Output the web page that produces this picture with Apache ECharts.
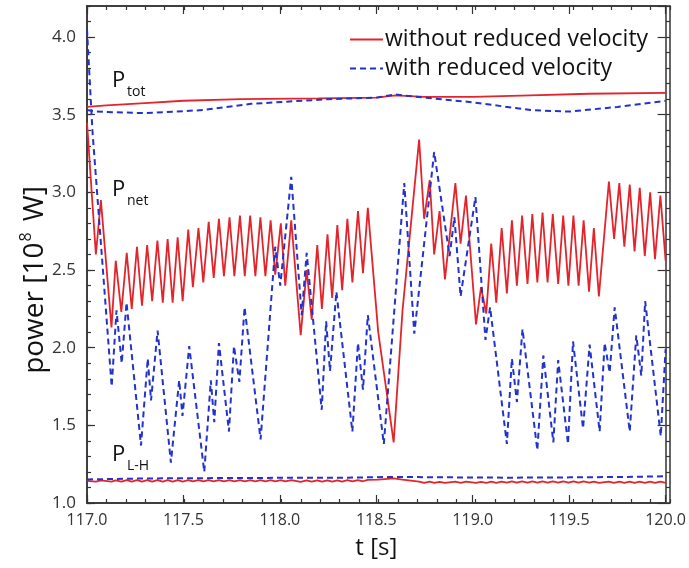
<!DOCTYPE html>
<html>
<head>
<meta charset="utf-8">
<script src="https://cdn.jsdelivr.net/npm/echarts@6/dist/echarts.min.js"></script>
<style>
  html, body { margin: 0; padding: 0; background: #fff; }
  #chart { width: 689px; height: 568px; }
</style>
</head>
<body>
<div id="chart"></div>
<script>
// Time stamps of the sawtooth vertices of the run without reduced velocity [s]
const tRed = [117.000,117.046,117.072,117.127,117.149,117.178,117.206,117.232,117.259,117.285,
  117.312,117.338,117.365,117.393,117.418,117.444,117.470,117.496,117.525,117.549,
  117.578,117.603,117.631,117.657,117.684,117.710,117.739,117.764,117.793,117.818,
  117.846,117.873,117.899,117.925,117.952,117.976,118.005,118.028,118.059,118.108,
  118.139,118.165,118.194,118.218,118.247,118.271,118.298,118.323,118.350,118.376,
  118.405,118.431,118.456,118.510,118.590,118.636,118.722,118.748,118.777,118.800,
  118.828,118.856,118.910,118.937,118.965,119.017,119.043,119.070,119.096,119.122,
  119.150,119.177,119.203,119.229,119.256,119.284,119.309,119.335,119.362,119.388,
  119.415,119.443,119.469,119.496,119.522,119.549,119.575,119.603,119.628,119.654,
  119.706,119.733,119.760,119.786,119.814,119.839,119.866,119.892,119.920,119.945,
  119.973,120.000];

// P_net without reduced velocity [1e8 W]
const netRed = [3.45,2.60,2.95,2.13,2.56,2.23,2.61,2.25,2.65,2.27,
  2.66,2.30,2.69,2.29,2.70,2.29,2.71,2.30,2.76,2.39,
  2.77,2.42,2.81,2.45,2.83,2.46,2.84,2.46,2.85,2.46,
  2.85,2.46,2.84,2.46,2.82,2.47,2.80,2.40,2.82,2.08,
  2.50,2.18,2.66,2.25,2.73,2.32,2.79,2.37,2.83,2.42,
  2.88,2.48,2.90,2.10,1.39,2.24,3.34,2.83,3.08,2.60,
  2.88,2.44,3.06,2.67,2.98,2.15,2.39,2.22,2.67,2.29,
  2.77,2.35,2.82,2.40,2.85,2.41,2.86,2.42,2.87,2.42,
  2.86,2.41,2.85,2.40,2.85,2.40,2.82,2.36,2.77,2.33,
  3.07,2.70,3.06,2.65,3.05,2.62,3.03,2.59,3.00,2.57,
  2.98,2.56];

// P_L-H without reduced velocity, same time stamps [1e8 W]
const lhRed = [1.142,1.137,1.146,1.137,1.146,1.138,1.147,1.138,1.147,1.138,
  1.147,1.138,1.147,1.138,1.147,1.138,1.147,1.138,1.147,1.139,
  1.147,1.139,1.147,1.139,1.147,1.139,1.147,1.139,1.147,1.139,
  1.147,1.139,1.147,1.139,1.147,1.139,1.147,1.139,1.147,1.136,
  1.145,1.137,1.146,1.137,1.146,1.138,1.146,1.138,1.147,1.139,
  1.148,1.140,1.149,1.150,1.158,1.150,1.138,1.130,1.137,1.129,
  1.136,1.129,1.137,1.130,1.137,1.129,1.136,1.130,1.138,1.130,
  1.138,1.131,1.139,1.131,1.139,1.131,1.139,1.131,1.139,1.131,
  1.139,1.131,1.139,1.131,1.139,1.131,1.139,1.131,1.138,1.130,
  1.138,1.130,1.138,1.130,1.138,1.130,1.137,1.129,1.137,1.129,
  1.137,1.129];

// P_tot without reduced velocity
const tTotRed = [117.0,117.1,117.3,117.5,117.8,118.2,118.5,118.6,118.75,119.0,119.3,119.6,120.0];
const totRed  = [3.55,3.56,3.575,3.59,3.60,3.605,3.61,3.625,3.615,3.615,3.625,3.635,3.64];

// P_net with reduced velocity
const tBlue = [117.000,117.028,117.128,117.153,117.180,117.205,117.280,117.315,117.332,117.366,
  117.435,117.478,117.495,117.530,117.608,117.642,117.660,117.684,117.736,117.762,
  117.790,117.817,117.900,117.976,118.002,118.059,118.113,118.139,118.217,118.240,
  118.260,118.293,118.376,118.405,118.431,118.456,118.539,118.645,118.697,118.800,
  118.880,118.905,118.937,119.014,119.066,119.090,119.177,119.203,119.229,119.258,
  119.335,119.366,119.418,119.443,119.494,119.520,119.572,119.606,119.658,119.684,
  119.710,119.736,119.814,119.848,119.874,119.894,119.975,120.000];
const netBlue = [4.05,3.40,1.75,2.24,1.90,2.29,1.37,1.93,1.66,2.11,
  1.26,1.79,1.56,2.01,1.20,1.79,1.52,2.03,1.46,2.01,
  1.78,2.26,1.41,2.65,2.40,3.10,2.21,2.61,1.60,2.17,
  1.85,2.36,1.46,2.03,1.73,2.21,1.38,3.06,2.09,3.26,
  2.59,2.84,2.33,2.97,2.05,2.26,1.38,1.93,1.65,2.12,
  1.34,1.95,1.39,1.92,1.38,2.04,1.48,2.02,1.46,2.03,
  1.84,2.26,1.46,2.08,1.82,2.30,1.43,1.99];

// P_tot with reduced velocity
const tTotBlue = [117.0,117.05,117.3,117.6,117.85,118.25,118.5,118.6,118.75,119.0,119.3,119.5,119.75,120.0];
const totBlue  = [3.53,3.52,3.51,3.53,3.57,3.60,3.61,3.63,3.61,3.58,3.53,3.52,3.55,3.59];

// P_L-H with reduced velocity
const tLhBlue = [117.0,117.3,117.6,118.0,118.3,118.6,118.9,119.2,119.5,119.8,120.0];
const lhBlue  = [1.152,1.158,1.160,1.162,1.162,1.168,1.165,1.163,1.165,1.168,1.172];

const NAME_RED = 'without reduced velocity';
const NAME_BLUE = 'with reduced velocity';
const RED = '#e3242b';
const BLUE = '#2233cc';
const FONT = 'Open Sans';
const AXIS_COLOR = '#333';

const pairs = (ts, vs) => ts.map((t, i) => [t, vs[i]]);

const gridRect = { left: 87, right: 19, top: 6, bottom: 65 };

function xAxisDef(gridIndex, position, interval, tickLen, withLabels) {
  return {
    type: 'value', gridIndex, position, min: 117, max: 120, interval,
    axisLine: { show: true, onZero: false, lineStyle: { color: AXIS_COLOR, width: 1.5 } },
    axisTick: { show: true, inside: true, length: tickLen, lineStyle: { color: AXIS_COLOR, width: 1.2 } },
    axisLabel: withLabels ? {
      show: true, formatter: v => v.toFixed(1), fontSize: 16, color: '#333', fontFamily: FONT, margin: 9
    } : { show: false },
    splitLine: { show: false },
    name: withLabels ? 't [s]' : '',
    nameLocation: 'middle', nameGap: 33,
    nameTextStyle: { fontSize: 24, color: '#111', fontFamily: FONT }
  };
}

function yAxisDef(gridIndex, position, interval, tickLen, withLabels) {
  return {
    type: 'value', gridIndex, position, min: 1.0, max: 4.2, interval,
    axisLine: { show: true, onZero: false, lineStyle: { color: AXIS_COLOR, width: 1.5 } },
    axisTick: { show: true, inside: true, length: tickLen, lineStyle: { color: AXIS_COLOR, width: 1.2 } },
    axisLabel: withLabels ? {
      show: true, formatter: v => v.toFixed(1), fontSize: 17, color: '#333', fontFamily: FONT,
      margin: 11, showMaxLabel: false
    } : { show: false },
    splitLine: { show: false }
  };
}

const lineSeries = (name, data, color, dashed) => ({
  name, type: 'line', data, xAxisIndex: 0, yAxisIndex: 0,
  symbol: 'none', showSymbol: false, smooth: false, clip: true,
  lineStyle: { color, width: dashed ? 2 : 1.8, type: dashed ? [6, 4] : 'solid' },
  itemStyle: { color },
  emphasis: { disabled: true }
});

const chart = echarts.init(document.getElementById('chart'), null, { renderer: 'canvas' });

chart.setOption({
  animation: false,
  backgroundColor: '#fff',
  grid: [Object.assign({}, gridRect), Object.assign({}, gridRect)],
  xAxis: [
    xAxisDef(0, 'bottom', 0.5, 8, true),
    xAxisDef(0, 'top', 0.5, 8, false),
    xAxisDef(1, 'bottom', 0.1, 4, false),
    xAxisDef(1, 'top', 0.1, 4, false)
  ],
  yAxis: [
    yAxisDef(0, 'left', 0.5, 8, true),
    yAxisDef(0, 'right', 0.5, 8, false),
    yAxisDef(1, 'left', 0.1, 4, false),
    yAxisDef(1, 'right', 0.1, 4, false)
  ],
  legend: {
    orient: 'vertical', left: 349, top: 28, padding: 0,
    itemWidth: 33, itemHeight: 14, itemGap: 6,
    itemStyle: { opacity: 0 },
    textStyle: { fontSize: 23, color: '#111', fontFamily: FONT, padding: [0, 0, 0, -3] },
    data: [NAME_RED, NAME_BLUE],
    selectedMode: false
  },
  series: [
    lineSeries(NAME_RED, pairs(tTotRed, totRed), RED, false),
    lineSeries(NAME_RED, pairs(tRed, netRed), RED, false),
    lineSeries(NAME_RED, pairs(tRed, lhRed), RED, false),
    lineSeries(NAME_BLUE, pairs(tTotBlue, totBlue), BLUE, true),
    lineSeries(NAME_BLUE, pairs(tBlue, netBlue), BLUE, true),
    lineSeries(NAME_BLUE, pairs(tLhBlue, lhBlue), BLUE, true)
  ],
  graphic: [
    // vertical axis title with superscript exponent
    {
      type: 'text', x: 35, y: 280, rotation: Math.PI / 2,
      style: {
        text: '{a|power [10}{b|8}{a| W]}',
        align: 'center', verticalAlign: 'middle',
        rich: {
          a: { fontSize: 28, fontFamily: FONT, fill: '#111', lineHeight: 34 },
          b: { fontSize: 16, fontFamily: FONT, fill: '#111', verticalAlign: 'top', lineHeight: 34, padding: [0, 4, 0, 1] }
        }
      }
    },
    // curve annotations
    { type: 'text', x: 112, y: 70, style: { text: 'P', fontSize: 22, fontFamily: FONT, fill: '#111' } },
    { type: 'text', x: 127, y: 85, style: { text: 'tot', fontSize: 14, fontFamily: FONT, fill: '#111' } },
    { type: 'text', x: 112, y: 179, style: { text: 'P', fontSize: 22, fontFamily: FONT, fill: '#111' } },
    { type: 'text', x: 127, y: 194, style: { text: 'net', fontSize: 14, fontFamily: FONT, fill: '#111' } },
    { type: 'text', x: 112, y: 444, style: { text: 'P', fontSize: 22, fontFamily: FONT, fill: '#111' } },
    { type: 'text', x: 127, y: 459, style: { text: 'L-H', fontSize: 14, fontFamily: FONT, fill: '#111' } }
  ]
});
</script>
</body>
</html>
